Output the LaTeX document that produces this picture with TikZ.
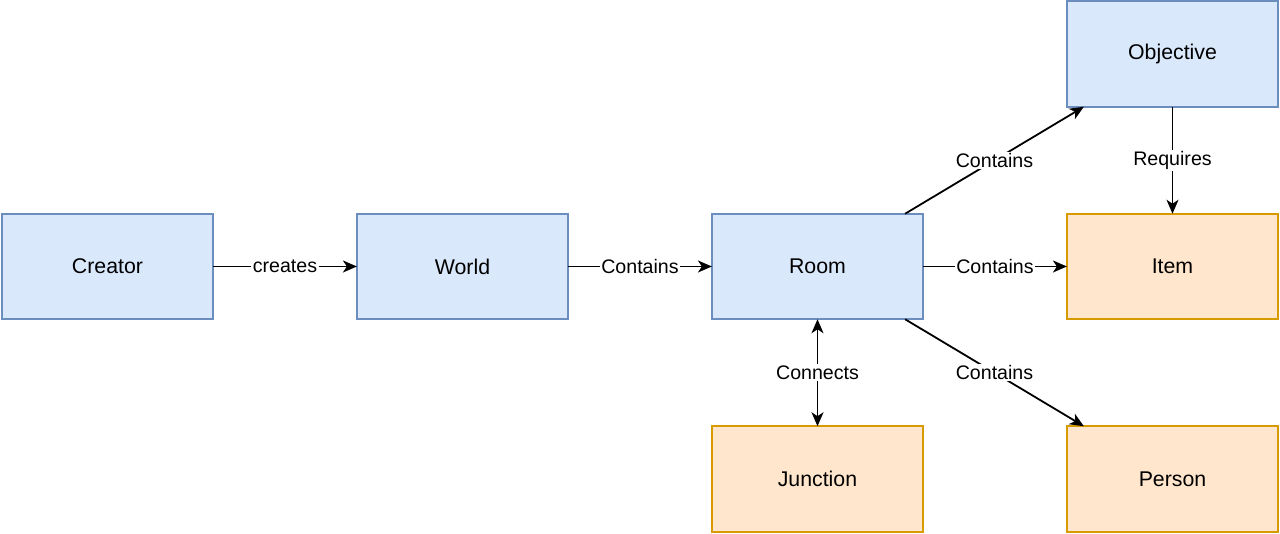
\documentclass[tikz,border=0pt]{standalone}
\usepackage{fontspec}
\setmainfont{Liberation Sans}
\usepackage{xcolor}
\usetikzlibrary{arrows.meta,positioning}
\definecolor{blueFill}{HTML}{DAE8FC}
\definecolor{blueLine}{HTML}{6C8EBF}
\definecolor{orangeFill}{HTML}{FFE6CC}
\definecolor{orangeLine}{HTML}{D79B00}
\begin{document}
\begin{tikzpicture}[
				x=1pt, y=1pt,
				node distance=143.8pt,
				entity/.style={rectangle, draw=blueLine, fill=blueFill, line width=1.8pt, outer sep=0pt, minimum width=211.2pt, minimum height=105.5pt, font=\fontsize{21.3}{25}\selectfont},
				thing/.style={entity, draw=orangeLine, fill=orangeFill},
				arrow/.style={line width=1.8pt, -{Stealth[length=14pt, width=12pt, inset=4pt]}},
				lbl/.style={fill=white, inner sep=1.5pt, font=\fontsize{19.6}{23}\selectfont}
				]
				\useasboundingbox (0,0) rectangle (1280,534);
				\node (creator) [entity] at (107.5,267.5) {Creator};
				\node (world) [entity, right=of creator] {World};
				\node (room) [entity, right=of world] {Room};
				\node (item) [thing, right=of room] {Item};
				\node (objective) [entity, above=107pt of item] {Objective};
				\node (person) [thing, below=107pt of item] {Person};
				\node (junction) [thing, below=107pt of room] {Junction};
				
				\coordinate (roomNE) at ([xshift=-18pt]room.north east);
				\coordinate (roomSE) at ([xshift=-18pt]room.south east);
				\coordinate (objSW) at ([xshift=17pt]objective.south west);
				\coordinate (personNW) at ([xshift=17pt]person.north west);
				
				\draw [arrow] (creator) -- node[lbl] {creates} (world);
				\draw [arrow] (world) -- node[lbl] {Contains} (room);
				\draw [arrow] (room) -- node[lbl] {Contains} (item);
				\draw [arrow] (roomNE) -- node[lbl] {Contains} (objSW);
				\draw [arrow] (roomSE) -- node[lbl] {Contains} (personNW);
				\draw [arrow] (objective) -- node[lbl] {Requires} (item);
				\draw [arrow, {Stealth[length=14pt, width=12pt, inset=4pt]}-{Stealth[length=14pt, width=12pt, inset=4pt]}] (room) -- node[lbl] {Connects} (junction);
			\end{tikzpicture}
\end{document}
